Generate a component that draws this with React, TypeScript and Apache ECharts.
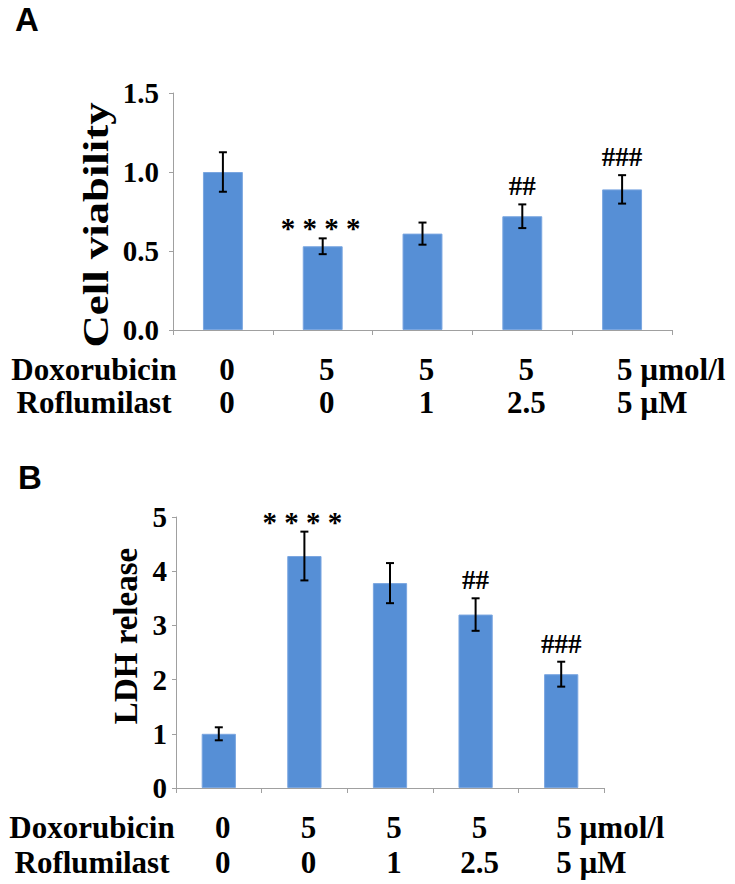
import React, { useEffect, useRef } from "react";
import * as echarts from "echarts";

const categories = ["G1", "G2", "G3", "G4", "G5"];
const doxorubicin = ["0", "5", "5", "5", "5 µmol/l"];
const roflumilast = ["0", "0", "1", "2.5", "5 µM"];

const viability = [1.0, 0.53, 0.61, 0.72, 0.89];
const viabilityErr = [0.125, 0.05, 0.07, 0.075, 0.09];
const viabilityMarks = ["", "****", "", "##", "###"];

const ldh = [1.0, 4.28, 3.78, 3.2, 2.1];
const ldhErr = [0.12, 0.45, 0.37, 0.3, 0.23];
const ldhMarks = ["", "****", "", "##", "###"];

const SERIF = "Liberation Serif, serif";
const SANS = "Liberation Sans, sans-serif";
const BAR = "#568fd6";
const AXIS = "#a0a0a0";

function errRender(marks: string[]) {
  return (params: any, api: any) => {
    const i = api.value(0);
    const v = api.value(1);
    const e = api.value(2);
    const top = api.coord([i, v + e]);
    const bot = api.coord([i, v - e]);
    const x = top[0];
    const ls = { stroke: "#000", lineWidth: 2 };
    const children: any[] = [
      { type: "line", shape: { x1: x, y1: top[1], x2: x, y2: bot[1] }, style: ls },
      { type: "line", shape: { x1: x - 4, y1: top[1], x2: x + 4, y2: top[1] }, style: ls },
      { type: "line", shape: { x1: x - 4, y1: bot[1], x2: x + 4, y2: bot[1] }, style: ls },
    ];
    const m = marks[params.dataIndex];
    if (m) {
      const star = m[0] === "*";
      children.push({
        type: "text",
        style: {
          text: star ? m.split("").join(" ") : m,
          x: x - (star ? 2 : 0),
          y: top[1] - (star ? 10 : 18),
          align: "center",
          verticalAlign: "middle",
          textAlign: "center",
          textVerticalAlign: "middle",
          fontFamily: SERIF,
          fontWeight: "bold",
          fontSize: star ? 29 : 27,
          fill: "#000",
        },
      });
    }
    return { type: "group", children };
  };
}

function txt(text: string, x: number, y: number, size: number, align = "center", family = SERIF, extra: any = {}) {
  return {
    type: "text",
    x,
    y,
    ...extra,
    style: {
      text,
      x: 0,
      y: 0,
      align,
      verticalAlign: "middle",
      textAlign: align,
      textVerticalAlign: "middle",
      fontFamily: family,
      fontWeight: "bold",
      fontSize: size,
      fill: "#000",
    },
  };
}

export default function App() {
  const ref = useRef<HTMLDivElement>(null);
  useEffect(() => {
    document.body.style.margin = "0";
    const chart = echarts.init(ref.current!, null, { renderer: "svg" });
    const xAxisBase = {
      type: "category",
      data: categories,
      boundaryGap: true,
      axisLine: { lineStyle: { color: AXIS, width: 1 } },
      axisTick: { show: true, length: 5, lineStyle: { color: AXIS } },
      axisLabel: { show: false },
    };
    const yAxisBase = {
      type: "value",
      splitLine: { show: false },
      axisLine: { show: true, lineStyle: { color: AXIS, width: 1 } },
      axisTick: { show: true, length: 4, lineStyle: { color: AXIS } },
    };
    chart.setOption({
      animation: false,
      grid: [
        { left: 173, top: 93, width: 499, height: 237 },
        { left: 176, top: 517, width: 428, height: 271 },
      ],
      xAxis: [
        { ...xAxisBase, gridIndex: 0 },
        { ...xAxisBase, gridIndex: 1 },
      ],
      yAxis: [
        {
          ...yAxisBase,
          gridIndex: 0,
          min: 0,
          max: 1.5,
          interval: 0.5,
          axisLabel: {
            margin: 14,
            color: "#000",
            fontFamily: SERIF,
            fontWeight: "bold",
            fontSize: 29,
            formatter: (v: number) => v.toFixed(1),
          },
        },
        {
          ...yAxisBase,
          gridIndex: 1,
          min: 0,
          max: 5,
          interval: 1,
          axisLabel: {
            margin: 9,
            color: "#000",
            fontFamily: SERIF,
            fontWeight: "bold",
            fontSize: 29,
          },
        },
      ],
      series: [
        {
          type: "bar",
          xAxisIndex: 0,
          yAxisIndex: 0,
          data: viability,
          barWidth: "40%",
          itemStyle: { color: BAR, borderColor: "#7aa6e0", borderWidth: 1 },
        },
        {
          type: "custom",
          xAxisIndex: 0,
          yAxisIndex: 0,
          data: viability.map((v, i) => [i, v, viabilityErr[i]]),
          encode: { x: 0, y: 1 },
          renderItem: errRender(viabilityMarks),
          clip: false,
          z: 5,
        },
        {
          type: "bar",
          xAxisIndex: 1,
          yAxisIndex: 1,
          data: ldh,
          barWidth: "40%",
          itemStyle: { color: BAR, borderColor: "#7aa6e0", borderWidth: 1 },
        },
        {
          type: "custom",
          xAxisIndex: 1,
          yAxisIndex: 1,
          data: ldh.map((v, i) => [i, v, ldhErr[i]]),
          encode: { x: 0, y: 1 },
          renderItem: errRender(ldhMarks),
          clip: false,
          z: 5,
        },
      ],
    });

    const g: any[] = [];
    g.push(txt("A", 15, 19, 33, "left", SANS));
    g.push(txt("B", 18, 477, 33, "left", SANS));
    g.push(txt("Cell viability", 96, 225, 35, "center", SERIF, { rotation: Math.PI / 2, scaleX: 1.28 }));
    g.push(txt("LDH release", 126, 636, 33, "center", SERIF, { rotation: Math.PI / 2 }));

    const rows = [
      { axis: 0, y1: 369, y2: 402, nameX: 94 },
      { axis: 1, y1: 827, y2: 862, nameX: 92 },
    ];
    rows.forEach((r) => {
      g.push(txt("Doxorubicin", r.nameX, r.y1, 31));
      g.push(txt("Roflumilast", r.nameX, r.y2, 31));
      categories.forEach((_, i) => {
        const cx = chart.convertToPixel({ xAxisIndex: r.axis }, i) as number;
        const last = i === categories.length - 1;
        const x = last ? cx - 5 : cx + 4;
        const al = last ? "left" : "center";
        g.push(txt(doxorubicin[i], x, r.y1, 31, al));
        g.push(txt(roflumilast[i], x, r.y2, 31, al));
      });
    });
    chart.setOption({ graphic: g });

    return () => chart.dispose();
  }, []);
  return (
    <div
      ref={ref}
      style={{ position: "fixed", left: 0, top: 0, width: 735, height: 884, background: "#fff" }}
    />
  );
}
